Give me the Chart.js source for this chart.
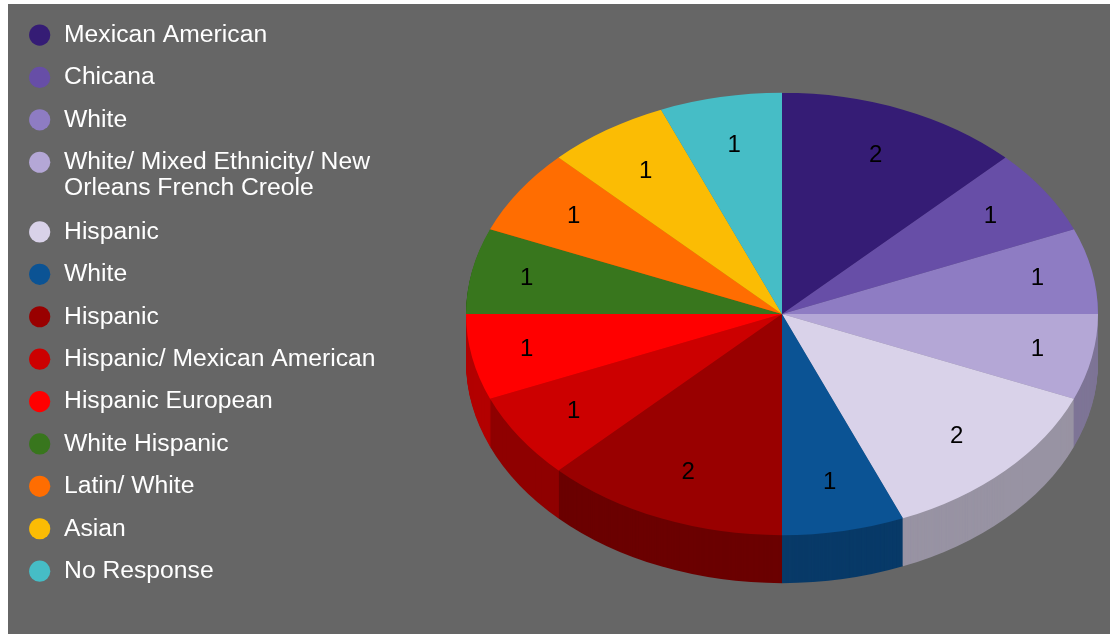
<!DOCTYPE html>
<html>
<head>
<meta charset="utf-8">
<script src="https://cdn.jsdelivr.net/npm/chart.js@4"></script>
<style>
  html, body { margin: 0; padding: 0; background: #fff; }
  #wrap { position: absolute; left: 8px; top: 4px; width: 1102px; height: 630px; background: #666666; }
</style>
</head>
<body>
<div id="wrap"><canvas id="pieChart"></canvas></div>
<script>
const labels = [
  'Mexican American', 'Chicana', 'White',
  ['White/ Mixed Ethnicity/ New', 'Orleans French Creole'],
  'Hispanic', 'White', 'Hispanic', 'Hispanic/ Mexican American',
  'Hispanic European', 'White Hispanic', 'Latin/ White', 'Asian', 'No Response'
];
const counts = [2, 1, 1, 1, 2, 1, 2, 1, 1, 1, 1, 1, 1];
const colors = [
  '#351c75', '#674ea7', '#8e7cc3', '#b4a7d6', '#d9d2e9', '#0b5394', '#990000',
  '#cc0000', '#ff0000', '#38761d', '#ff6d01', '#fbbc04', '#46bdc6'
];

// where the tilted pie sits inside the canvas
const pieCenter = { x: 774, y: 310 };
const pieRadius = 316;
const tilt = 0.7;
const depth = 48;

function darken(hex, f) {
  const n = parseInt(hex.slice(1), 16);
  const r = Math.round(((n >> 16) & 255) * f);
  const g = Math.round(((n >> 8) & 255) * f);
  const b = Math.round((n & 255) * f);
  return `rgb(${r},${g},${b})`;
}

function setTilt(ctx, arc, dy) {
  const s = pieRadius / arc.outerRadius;
  ctx.translate(pieCenter.x, pieCenter.y + dy);
  ctx.scale(s, s * tilt);
  ctx.translate(-arc.x, -arc.y);
}

const tiltedPie = {
  id: 'tiltedPie',
  beforeDatasetsDraw(chart) {
    const ctx = chart.ctx;
    const arcs = chart.getDatasetMeta(0).data;
    // side walls, stacked from the bottom up
    for (let k = depth; k >= 1; k--) {
      arcs.forEach((arc, i) => {
        ctx.save();
        setTilt(ctx, arc, k);
        ctx.beginPath();
        ctx.moveTo(arc.x, arc.y);
        ctx.arc(arc.x, arc.y, arc.outerRadius, arc.startAngle, arc.endAngle);
        ctx.closePath();
        ctx.fillStyle = darken(colors[i], 0.7);
        ctx.fill();
        ctx.restore();
      });
    }
    ctx.save();
    setTilt(ctx, arcs[0], 0);
  },
  afterDatasetsDraw(chart) {
    const ctx = chart.ctx;
    ctx.restore();
    const arcs = chart.getDatasetMeta(0).data;
    ctx.save();
    ctx.fillStyle = '#000';
    ctx.font = '24px "Liberation Sans", Arial, sans-serif';
    ctx.textAlign = 'center';
    ctx.textBaseline = 'middle';
    arcs.forEach((arc, i) => {
      const mid = (arc.startAngle + arc.endAngle) / 2;
      // labels sit a bit further out near the left and right ends
      const k = 0.775 + 0.055 * Math.pow(Math.cos(mid), 6);
      const x = pieCenter.x + Math.cos(mid) * pieRadius * k;
      const y = pieCenter.y + Math.sin(mid) * pieRadius * k * tilt;
      ctx.fillText(String(counts[i]), x, y);
    });
    ctx.restore();
  }
};

Chart.defaults.font.family = '"Liberation Sans", Arial, sans-serif';

new Chart(document.getElementById('pieChart').getContext('2d'), {
  type: 'pie',
  data: {
    labels: labels,
    datasets: [{
      data: counts,
      backgroundColor: colors,
      borderColor: colors,
      borderWidth: 0,
      clip: false
    }]
  },
  options: {
    responsive: true,
    maintainAspectRatio: false,
    animation: false,
    layout: { padding: { left: 2, top: 1 } },
    plugins: {
      legend: {
        position: 'left',
        align: 'start',
        labels: {
          color: '#ffffff',
          usePointStyle: true,
          pointStyle: 'circle',
          boxHeight: 15,
          boxWidth: 24,
          padding: 17.7,
          font: { size: 24.7, lineHeight: 26 / 24.7 }
        }
      },
      tooltip: { enabled: false }
    }
  },
  plugins: [tiltedPie]
});
</script>
</body>
</html>
